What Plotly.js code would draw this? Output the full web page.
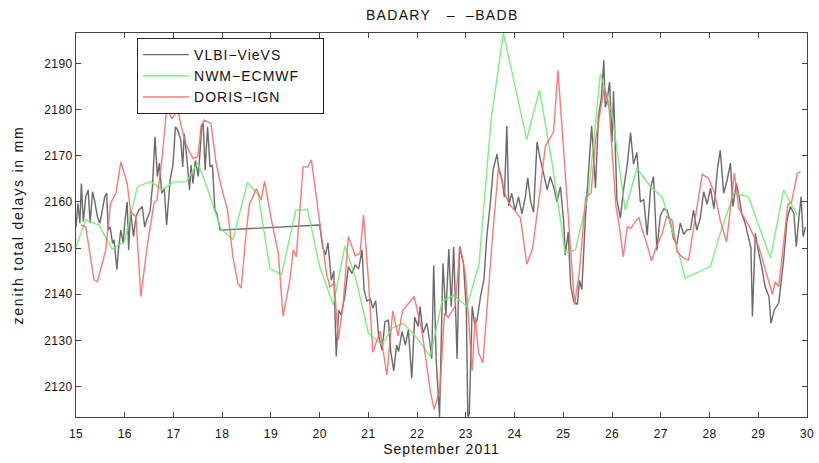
<!DOCTYPE html>
<html>
<head>
<meta charset="utf-8">
<script src="https://cdn.plot.ly/plotly-3.0.1.min.js"></script>
<style>
html,body{margin:0;padding:0;background:#fff;}
#chart{width:819px;height:463px;}
#chart .gtitle{letter-spacing:1.3px;}
#chart .xtitle{letter-spacing:1px;}
#chart .ytitle{letter-spacing:1.8px;}
#chart .legendtext{letter-spacing:1px;}
#chart .xtick text,#chart .ytick text{letter-spacing:0.4px;}
</style>
</head>
<body>
<div id="chart"></div>
<script>
// ---- VLBI-VieVS (day of September 2011, ZTD mm) ----
const vlbiDays = [
15.00,15.04,15.08,15.11,15.15,15.20,15.25,15.29,15.34,15.38,15.44,15.49,15.54,15.59,15.63,15.66,15.70,15.75,15.78,15.84,
15.87,15.92,15.97,16.00,16.05,16.08,16.12,16.18,16.23,16.29,16.36,16.41,16.45,16.52,16.57,16.62,16.67,16.71,16.76,16.81,
16.86,16.93,16.99,17.04,17.09,17.15,17.19,17.22,17.27,17.33,17.36,17.40,17.45,17.51,17.58,17.61,17.65,17.70,17.75,17.80,
17.85,17.89,17.96,
20.00,20.06,20.12,20.17,20.24,20.29,20.34,20.39,20.44,20.52,20.59,20.66,20.73,20.80,20.87,20.91,20.97,21.04,21.09,21.15,
21.21,21.28,21.34,21.41,21.46,21.52,21.58,21.62,21.69,21.76,21.82,21.89,21.95,22.02,22.06,22.12,22.20,22.26,22.30,22.34,
22.39,22.46,22.53,22.59,22.65,22.70,22.75,22.82,22.87,22.95,23.01,23.04,23.07,23.13,23.18,23.23,23.30,23.37,23.43,23.50,
23.56,23.61,23.64,23.67,23.74,23.79,23.84,23.88,23.94,24.01,24.08,24.15,24.22,24.27,24.33,24.39,24.46,24.53,24.60,24.67,
24.73,24.80,24.87,24.94,25.01,25.04,25.10,25.15,25.21,25.29,25.33,25.38,25.45,25.51,25.58,25.66,25.72,25.78,25.83,25.86,
25.90,25.95,26.00,26.03,26.10,26.17,26.24,26.31,26.38,26.44,26.51,26.58,26.65,26.72,26.79,26.85,26.92,26.99,27.06,27.13,
27.20,27.26,27.33,27.40,27.47,27.54,27.61,27.67,27.74,27.81,27.88,27.95,28.02,28.09,28.16,28.22,28.29,28.36,28.43,28.48,
28.55,28.61,28.66,28.73,28.79,28.85,28.88,28.94,29.01,29.07,29.14,29.22,29.26,29.33,29.42,29.52,29.59,29.66,29.73,29.78,
29.83,29.88,29.92,29.97
];
const vlbiZtd = [
2154.6,2159.7,2155.4,2164.0,2155.7,2161.1,2162.6,2155.4,2162.2,2160.4,2156.8,2155.4,2158.2,2161.1,2161.9,2153.9,2154.6,2151.0,2151.8,2145.3,
2149.6,2153.9,2151.0,2155.4,2160.0,2149.6,2158.2,2152.5,2156.8,2158.2,2159.0,2154.6,2156.1,2158.0,2163.5,2174.1,2165.5,2168.4,2161.9,2163.0,
2155.0,2164.7,2168.0,2176.3,2175.5,2173.4,2167.6,2174.8,2170.0,2162.6,2168.0,2164.0,2169.0,2165.5,2176.3,2177.0,2166.9,2176.3,2167.6,2168.0,
2158.2,2157.5,2153.9,
2155.0,2150.3,2148.5,2151.2,2143.0,2145.0,2126.5,2136.5,2135.5,2139.8,2146.0,2144.5,2146.3,2145.5,2149.6,2141.0,2138.5,2139.0,2137.0,2138.6,
2131.0,2127.9,2134.0,2134.4,2127.5,2123.4,2129.0,2127.6,2131.9,2129.0,2132.3,2121.8,2135.0,2133.0,2137.3,2131.6,2133.7,2129.6,2126.0,2146.2,
2126.0,2113.4,2146.7,2135.5,2149.8,2137.3,2150.3,2126.0,2150.3,2146.7,2136.6,2113.5,2114.0,2137.4,2133.5,2134.4,2139.5,2143.1,2152.5,2159.5,
2167.0,2169.1,2170.4,2167.5,2165.0,2161.0,2176.4,2159.2,2161.9,2158.1,2161.1,2157.4,2161.0,2165.2,2160.0,2157.8,2173.0,2169.1,2165.5,2162.6,
2165.5,2163.3,2160.0,2163.3,2155.4,2148.5,2153.5,2142.0,2138.5,2137.8,2143.0,2141.0,2156.0,2164.7,2176.5,2163.0,2178.5,2182.5,2190.7,2180.5,
2182.0,2186.0,2173.0,2184.0,2160.5,2156.5,2163.0,2168.0,2175.0,2168.2,2170.7,2160.0,2160.5,2152.8,2163.0,2165.5,2149.5,2157.0,2158.5,2158.2,
2155.4,2152.0,2150.8,2155.4,2153.0,2154.0,2154.0,2158.2,2153.9,2156.5,2162.2,2159.5,2163.0,2158.5,2166.9,2171.2,2161.9,2164.7,2168.4,2159.0,
2164.0,2161.0,2157.5,2155.4,2152.5,2150.0,2135.2,2153.2,2148.9,2146.0,2141.6,2139.5,2133.7,2136.6,2138.1,2147.4,2156.1,2159.0,2157.5,2150.3,
2156.1,2161.1,2152.5,2154.6
];

// ---- NWM-ECMWF ----
const nwmDays = [
15.00,15.20,15.47,15.74,15.99,16.26,16.53,16.77,17.00,17.27,17.50,17.67,17.98,18.22,18.52,18.74,18.98,19.22,19.51,19.75,
20.00,20.28,20.52,20.75,21.00,21.28,21.48,21.72,22.00,22.27,22.51,22.75,23.02,23.27,23.52,23.77,24.25,24.51,24.77,25.04,
25.25,25.52,25.76,26.00,26.27,26.51,26.79,27.03,27.13,27.37,27.50,28.02,28.22,28.50,28.80,29.25,29.52,29.80
];
const nwmZtd = [
2150.3,2156.1,2155.0,2149.8,2151.4,2163.3,2164.4,2162.6,2164.3,2164.4,2168.5,2163.7,2154.0,2151.9,2164.2,2161.5,2145.5,2144.3,2158.2,2158.4,
2146.0,2137.7,2150.5,2143.0,2131.6,2129.0,2132.6,2133.7,2130.5,2126.5,2138.4,2139.8,2137.3,2146.5,2178.0,2196.6,2173.5,2184.2,2168.4,2149.0,
2149.6,2162.0,2187.8,2179.2,2158.2,2167.3,2163.3,2161.1,2157.5,2148.9,2143.5,2146.0,2153.2,2161.9,2161.1,2147.8,2162.6,2157.2
];

// ---- DORIS-IGN ----
const dorisDays = [
15.10,15.20,15.37,15.44,15.61,15.71,15.82,15.92,16.05,16.12,16.23,16.33,16.46,16.60,16.66,16.77,16.86,16.97,17.09,17.16,
17.26,17.40,17.50,17.57,17.63,17.77,17.87,17.98,18.11,18.22,18.32,18.39,18.49,18.56,18.63,18.70,18.80,18.87,19.01,19.15,
19.25,19.39,19.46,19.52,19.66,19.76,19.83,20.00,20.14,20.21,20.30,20.38,20.48,20.59,20.73,20.83,20.90,21.00,21.09,21.24,
21.38,21.50,21.61,21.70,21.94,22.10,22.27,22.35,22.47,22.56,22.64,22.78,22.88,22.99,23.13,23.19,23.26,23.35,23.54,23.67,
23.81,23.88,24.12,24.25,24.37,24.53,24.63,24.80,24.89,25.23,25.33,25.46,25.57,25.66,25.84,25.94,26.08,26.14,26.23,26.31,
26.38,26.48,26.55,26.62,26.72,26.81,26.90,27.03,27.12,27.23,27.33,27.47,27.57,27.85,27.98,28.10,28.22,28.35,28.51,28.60,
28.80,29.01,29.13,29.29,29.35,29.42,29.61,29.68,29.80,29.87
];
const dorisZtd = [
2155.0,2154.6,2143.1,2142.7,2149.6,2159.7,2161.9,2168.7,2164.0,2157.9,2156.8,2139.5,2150.3,2159.7,2160.4,2169.8,2180.3,2178.0,2180.0,2176.3,
2172.3,2169.4,2169.8,2176.6,2177.7,2177.0,2168.7,2163.3,2158.2,2148.1,2142.4,2141.3,2153.2,2159.7,2161.1,2162.9,2160.4,2164.5,2156.1,2148.9,
2135.2,2143.1,2149.6,2148.1,2167.6,2167.6,2169.1,2156.1,2144.5,2141.6,2142.4,2130.1,2137.5,2152.5,2148.3,2148.9,2157.2,2143.1,2127.4,2132.0,
2122.5,2136.4,2131.0,2136.4,2139.5,2131.9,2119.0,2115.0,2119.5,2135.8,2135.0,2137.5,2150.4,2144.5,2123.4,2135.0,2127.3,2125.1,2151.6,2167.5,
2161.6,2159.8,2156.5,2146.5,2150.0,2163.0,2172.0,2175.2,2188.5,2137.7,2145.0,2161.1,2161.9,2173.4,2184.8,2180.3,2159.0,2155.4,2148.1,2154.6,
2154.2,2155.8,2156.7,2153.9,2150.7,2147.2,2150.0,2153.2,2156.8,2156.1,2149.2,2147.8,2147.4,2166.0,2165.1,2162.0,2156.0,2151.3,2166.3,2158.6,
2155.0,2150.3,2146.0,2140.0,2142.7,2141.6,2159.5,2159.8,2166.2,2166.5
];

const xTicks = [15,16,17,18,19,20,21,22,23,24,25,26,27,28,29,30];
const yTicks = [2120,2130,2140,2150,2160,2170,2180,2190];

const FONT = '"Liberation Sans", Arial, Helvetica, sans-serif';
const NB = '\u00a0';
const PAD = NB.repeat(7);

const traces = [
  {x: vlbiDays, y: vlbiZtd, name: 'VLBI\u2212VieVS' + PAD, type: 'scatter', mode: 'lines',
   line: {color: 'rgba(85,85,85,0.88)', width: 1.4}, legendgroup: 'a'},
  {x: nwmDays, y: nwmZtd, name: 'NWM\u2212ECMWF' + PAD, type: 'scatter', mode: 'lines',
   line: {color: 'rgba(110,240,110,0.9)', width: 1.4}, legendgroup: 'b'},
  {x: dorisDays, y: dorisZtd, name: 'DORIS\u2212IGN' + PAD, type: 'scatter', mode: 'lines',
   line: {color: 'rgba(255,105,105,0.9)', width: 1.4}, legendgroup: 'c'}
];

const axisCommon = {
  showline: true, linecolor: '#444', linewidth: 1, mirror: 'ticks',
  ticks: 'inside', ticklen: 5, tickcolor: '#444', tickwidth: 1,
  showgrid: false, zeroline: false,
  tickfont: {family: FONT, size: 12, color: '#111'}
};

const layout = {
  width: 819, height: 463,
  margin: {l: 76, r: 12, t: 33, b: 46},
  paper_bgcolor: '#fff', plot_bgcolor: '#fff',
  font: {family: FONT, size: 12, color: '#111'},
  title: {text: 'BADARY' + NB + NB + NB + '\u2013' + NB + NB + '\u2013BADB',
          x: 0.54, xanchor: 'center', y: 0.968, yanchor: 'middle',
          font: {family: FONT, size: 14, color: '#111'}},
  xaxis: Object.assign({}, axisCommon, {
    range: [15, 30], tickmode: 'array', tickvals: xTicks, ticktext: xTicks.map(String),
    ticklabelstandoff: 6,
    title: {text: 'September 2011', standoff: 2, font: {family: FONT, size: 14, color: '#111'}}
  }),
  yaxis: Object.assign({}, axisCommon, {
    range: [2113.4, 2196.6], tickmode: 'array', tickvals: yTicks, ticktext: yTicks.map(String),
    title: {text: 'zenith total delays in mm', standoff: 18, font: {family: FONT, size: 14, color: '#111'}}
  }),
  showlegend: true,
  legend: {
    x: 0.0835, y: 0.987, xanchor: 'left', yanchor: 'top',
    bgcolor: '#fff', bordercolor: '#222', borderwidth: 1,
    font: {family: FONT, size: 14, color: '#111'},
    tracegroupgap: 7, itemwidth: 46, traceorder: 'normal'
  }
};

Plotly.newPlot('chart', traces, layout, {displayModeBar: false, staticPlot: true});
</script>
</body>
</html>
